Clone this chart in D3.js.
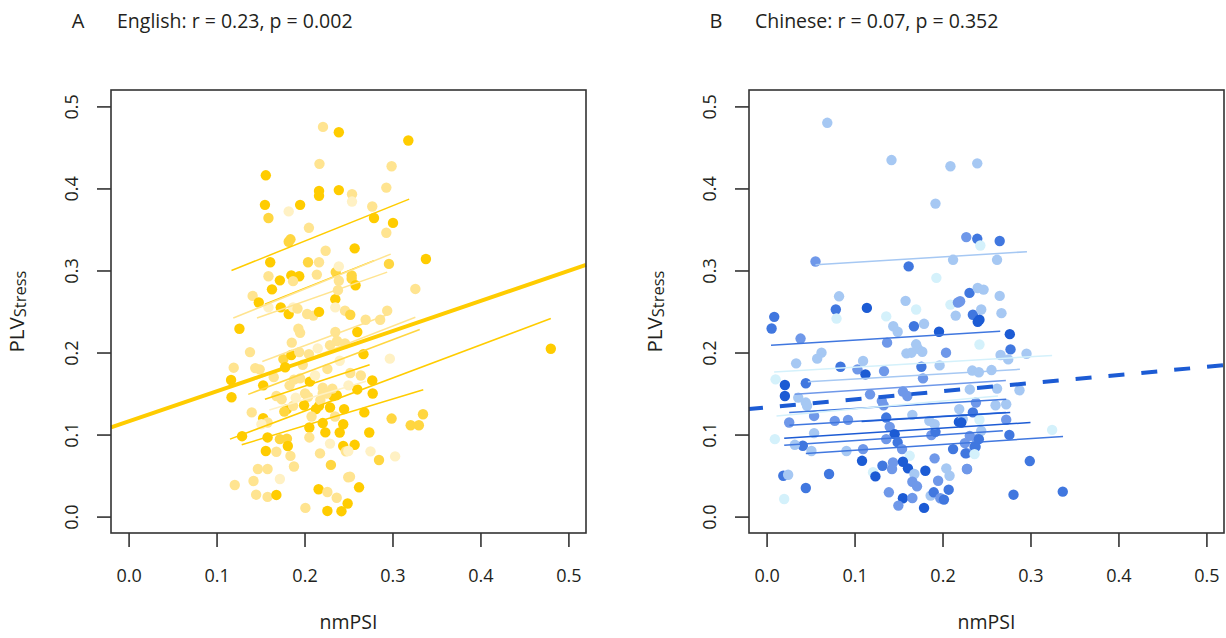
<!DOCTYPE html>
<html>
<head>
<meta charset="utf-8">
<script src="https://cdn.jsdelivr.net/npm/d3@7"></script>
<style>
  body { margin: 0; background: #fff; }
  text { font-family: "Open Sans", sans-serif; fill: #231f20; }
</style>
</head>
<body>
<div id="chart"></div>
<script>
// ---- data: [nmPSI, PLV, shade] ----
const englishPoints = [
  [0.221,0.475,2],[0.239,0.4685,0],[0.156,0.416,0],[0.217,0.430,2],[0.2165,0.397,0],[0.2165,0.391,0],
  [0.239,0.398,0],[0.155,0.380,0],[0.195,0.380,0],[0.182,0.372,3],[0.159,0.364,1],[0.205,0.352,2],
  [0.182,0.335,1],[0.184,0.338,1],[0.224,0.324,2],[0.161,0.310,0],[0.204,0.310,1],[0.2165,0.310,2],
  [0.159,0.293,2],[0.185,0.294,0],[0.194,0.293,0],[0.214,0.295,2],[0.2355,0.298,1],[0.172,0.288,0],
  [0.187,0.287,2],[0.163,0.277,0],[0.141,0.269,2],[0.148,0.261,0],[0.159,0.255,3],[0.173,0.255,0],
  [0.182,0.247,0],[0.187,0.255,3],[0.192,0.2535,2],[0.203,0.247,2],[0.210,0.245,2],[0.2165,0.2495,0],
  [0.235,0.265,0],[0.238,0.276,2],[0.239,0.2875,2],[0.239,0.305,3],[0.246,0.251,2],[0.235,0.255,3],
  [0.318,0.4585,0],[0.299,0.427,2],[0.254,0.393,2],[0.254,0.384,3],[0.293,0.401,2],[0.277,0.378,2],
  [0.279,0.364,0],[0.3006,0.358,0],[0.293,0.346,2],[0.257,0.327,0],[0.338,0.314,0],[0.296,0.308,1],
  [0.2536,0.294,1],[0.2536,0.290,1],[0.258,0.282,0],[0.326,0.2775,2],[0.252,0.246,1],[0.294,0.251,2],
  [0.2695,0.240,2],[0.286,0.240,2],[0.126,0.229,0],[0.1855,0.212,2],[0.195,0.224,2],[0.193,0.229,2],
  [0.235,0.225,2],[0.237,0.214,2],[0.229,0.209,2],[0.246,0.211,2],[0.138,0.2005,2],[0.176,0.192,1],
  [0.185,0.197,0],[0.194,0.2005,2],[0.205,0.198,2],[0.178,0.182,0],[0.1195,0.1815,2],[0.144,0.181,2],
  [0.149,0.1795,2],[0.1165,0.1665,0],[0.117,0.1455,0],[0.153,0.160,0],[0.168,0.147,2],[0.174,0.143,2],
  [0.188,0.167,2],[0.195,0.1685,2],[0.206,0.1645,0],[0.2006,0.150,2],[0.204,0.146,2],[0.1995,0.1357,0],
  [0.180,0.131,0],[0.187,0.135,2],[0.177,0.128,1],[0.140,0.127,2],[0.153,0.120,0],[0.158,0.1147,2],
  [0.151,0.1126,3],[0.129,0.098,0],[0.158,0.0965,0],[0.172,0.0944,1],[0.180,0.095,1],[0.181,0.086,0],
  [0.2055,0.1086,0],[0.2055,0.0965,2],[0.2165,0.135,0],[0.2207,0.114,0],[0.2237,0.1026,0],[0.229,0.089,3],
  [0.213,0.131,0],[0.229,0.133,0],[0.2327,0.147,0],[0.2366,0.148,0],[0.245,0.131,0],[0.240,0.1025,0],
  [0.244,0.086,0],[0.2347,0.122,2],[0.2207,0.157,2],[0.2316,0.156,2],[0.156,0.080,0],[0.168,0.079,2],
  [0.184,0.074,2],[0.188,0.061,2],[0.2176,0.077,2],[0.230,0.063,1],[0.147,0.058,2],[0.158,0.058,2],
  [0.172,0.0458,3],[0.142,0.0434,2],[0.1207,0.0385,2],[0.145,0.0267,2],[0.158,0.024,2],[0.168,0.0264,0],
  [0.201,0.0106,2],[0.216,0.0333,0],[0.226,0.030,2],[0.2366,0.023,2],[0.226,0.0069,0],[0.242,0.0066,0],
  [0.249,0.016,0],[0.2497,0.048,2],[0.247,0.0795,2],[0.260,0.225,0],[0.267,0.198,0],[0.297,0.1925,3],
  [0.264,0.172,2],[0.277,0.166,0],[0.260,0.155,0],[0.2775,0.150,0],[0.2207,0.150,2],[0.225,0.150,2],
  [0.268,0.127,0],[0.244,0.1126,0],[0.2736,0.1025,0],[0.299,0.1195,1],[0.3207,0.1114,1],[0.330,0.1114,1],
  [0.3347,0.1248,1],[0.257,0.0875,0],[0.2498,0.080,3],[0.275,0.0795,3],[0.2847,0.069,1],[0.303,0.0734,3],
  [0.2517,0.0486,2],[0.262,0.0357,0],[0.480,0.2046,0],
  [0.183,0.160,2],[0.212,0.172,3],[0.226,0.180,2],[0.240,0.190,3],[0.198,0.185,2],[0.215,0.205,3],
  [0.252,0.175,2],[0.190,0.145,3],[0.218,0.142,2],[0.165,0.170,2],[0.208,0.122,2],[0.250,0.160,3]
];

// per-subject fits: [x1, y1, x2, y2, shade]
const englishFits = [
  [0.117,0.300,0.319,0.387,0],[0.155,0.259,0.279,0.312,0],[0.119,0.242,0.298,0.320,2],
  [0.146,0.242,0.294,0.298,2],[0.1153,0.0944,0.480,0.2415,0],[0.1286,0.0875,0.335,0.1546,0],
  [0.136,0.149,0.331,0.228,1],[0.144,0.167,0.326,0.243,2],[0.152,0.189,0.294,0.246,2],
  [0.155,0.143,0.274,0.185,0],[0.160,0.130,0.270,0.165,3]
];
const englishOverall = [0.116, 0.367]; // intercept, slope

const chinesePoints = [
  [0.069,0.480,3],[0.142,0.4346,3],[0.209,0.427,3],[0.2395,0.4306,3],[0.192,0.3815,3],[0.227,0.3407,2],
  [0.2395,0.3386,1],[0.0556,0.311,2],[0.1615,0.305,1],[0.212,0.313,3],[0.193,0.291,4],[0.0824,0.2685,3],
  [0.0787,0.2524,1],[0.114,0.2544,0],[0.158,0.263,3],[0.170,0.2524,4],[0.209,0.2584,4],[0.2175,0.261,2],
  [0.220,0.2625,2],[0.2307,0.2727,1],[0.215,0.245,3],[0.2345,0.246,1],[0.0087,0.2435,1],[0.240,0.2787,3],
  [0.265,0.336,1],[0.243,0.3305,4],[0.262,0.313,3],[0.2467,0.2767,3],[0.265,0.269,3],[0.244,0.2524,3],
  [0.267,0.248,3],[0.242,0.240,0],[0.0057,0.2293,1],[0.0795,0.2414,4],[0.136,0.244,4],[0.144,0.232,3],
  [0.149,0.2253,3],[0.1675,0.232,1],[0.179,0.235,3],[0.196,0.2253,0],[0.240,0.2374,0],[0.0386,0.217,2],
  [0.137,0.212,2],[0.170,0.210,3],[0.172,0.2046,3],[0.159,0.199,3],[0.1646,0.1998,3],[0.177,0.201,3],
  [0.204,0.1998,2],[0.0624,0.1998,3],[0.0575,0.1925,3],[0.0336,0.1868,3],[0.084,0.1827,1],[0.1033,0.1795,2],
  [0.1097,0.1896,3],[0.1124,0.1734,0],[0.1335,0.1774,2],[0.176,0.1827,1],[0.1778,0.1685,2],[0.1967,0.1843,3],
  [0.0102,0.1673,4],[0.0208,0.1604,0],[0.0208,0.147,0],[0.0446,0.1625,1],[0.036,0.145,3],[0.0446,0.139,3],
  [0.046,0.135,3],[0.054,0.1227,2],[0.0257,0.1147,2],[0.054,0.1017,3],[0.0094,0.0944,4],[0.0412,0.0863,1],
  [0.0321,0.0875,3],[0.051,0.080,3],[0.0775,0.1167,2],[0.0926,0.1179,2],[0.0908,0.080,3],[0.1097,0.0823,2],
  [0.1085,0.068,0],[0.019,0.0498,1],[0.0245,0.051,3],[0.071,0.0519,1],[0.0446,0.0349,1],[0.020,0.0215,4],
  [0.1176,0.149,2],[0.131,0.141,2],[0.133,0.1357,2],[0.155,0.1524,2],[0.160,0.147,2],[0.1657,0.124,3],
  [0.136,0.1207,1],[0.140,0.1094,2],[0.1456,0.1005,0],[0.136,0.0944,2],[0.149,0.0904,1],[0.154,0.0823,2],
  [0.1627,0.0741,4],[0.1437,0.066,2],[0.155,0.0668,0],[0.1317,0.062,1],[0.121,0.054,4],[0.1237,0.049,0],
  [0.1426,0.058,2],[0.1607,0.0588,0],[0.168,0.0519,3],[0.1657,0.0425,2],[0.171,0.0369,2],[0.139,0.0296,2],
  [0.155,0.0223,0],[0.1657,0.0227,2],[0.1498,0.0134,2],[0.179,0.0106,0],[0.1805,0.0559,0],[0.1865,0.0255,3],
  [0.190,0.0296,1],[0.195,0.0437,2],[0.1975,0.0223,2],[0.2016,0.0207,1],[0.207,0.0328,1],[0.2043,0.0588,3],
  [0.208,0.0498,3],[0.191,0.071,2],[0.1873,0.0993,2],[0.192,0.1033,1],[0.212,0.0823,1],[0.2186,0.1154,0],
  [0.228,0.058,2],[0.2277,0.0774,2],[0.2254,0.0896,2],[0.2376,0.085,1],[0.231,0.0984,2],[0.239,0.0944,2],
  [0.219,0.131,3],[0.223,0.119,3],[0.2345,0.127,1],[0.238,0.139,2],[0.231,0.155,3],[0.185,0.1167,3],
  [0.191,0.1126,3],[0.2765,0.2224,0],[0.2773,0.2038,1],[0.242,0.2098,4],[0.266,0.197,3],[0.2747,0.1916,3],
  [0.2955,0.1985,3],[0.2338,0.178,3],[0.2413,0.176,3],[0.2557,0.1786,3],[0.262,0.156,3],[0.2875,0.154,3],
  [0.2603,0.1357,3],[0.2724,0.137,3],[0.2724,0.118,2],[0.242,0.118,4],[0.2213,0.1147,0],[0.244,0.1045,3],
  [0.276,0.0996,1],[0.2413,0.0944,1],[0.2364,0.085,1],[0.2262,0.077,1],[0.2364,0.0762,4],[0.2277,0.058,2],
  [0.3246,0.1057,4],[0.2992,0.0677,1],[0.2807,0.0267,1],[0.3367,0.0304,1]
];

const chineseFits = [
  [0.0556,0.3069,0.296,0.3229,3],[0.005,0.209,0.2656,0.226,1],[0.0086,0.1762,0.3246,0.1965,4],
  [0.047,0.1645,0.288,0.1795,3],[0.032,0.149,0.272,0.166,2],[0.0257,0.127,0.2724,0.143,1],
  [0.0113,0.1227,0.263,0.147,4],[0.026,0.1114,0.272,0.127,1],[0.108,0.116,0.277,0.127,0],
  [0.02,0.0956,0.30,0.1147,0],[0.02,0.087,0.2686,0.1045,1],[0.0446,0.077,0.337,0.0977,1]
];
const chineseOverall = [0.133, 0.099];

const tickValues = [0, 0.1, 0.2, 0.3, 0.4, 0.5];
const yellowShades = ["#ffcc00", "#ffd640", "#ffe490", "#fff1c4"];
const blueShades = ["#1c5bd4", "#4077df", "#6f98e9", "#a6c8f3", "#d4f1fb"];

// ---- layout ----
const w = 1226, h = 638;
const plotTop = 90, plotBottom = 533;
const svg = d3.select("#chart").append("svg").attr("width", w).attr("height", h);

const yScale = d3.scaleLinear().domain([-0.02, 0.52]).range([plotBottom, plotTop]);

function drawPanel(left, right, letter, title, pts, fits, overall, shades, dashed) {
    const xScale = d3.scaleLinear().domain([-0.02, 0.52]).range([left, right]);
    const g = svg.append("g");

    // points
    g.append("g").selectAll("circle").data(pts).join("circle")
        .attr("cx", d => xScale(d[0]))
        .attr("cy", d => yScale(d[1]))
        .attr("r", 5.2)
        .attr("fill", d => shades[d[2]]);

    // per-subject regression lines
    g.append("g").selectAll("line").data(fits).join("line")
        .attr("x1", d => xScale(d[0])).attr("y1", d => yScale(d[1]))
        .attr("x2", d => xScale(d[2])).attr("y2", d => yScale(d[3]))
        .attr("stroke", d => shades[d[4]])
        .attr("stroke-width", 1.5);

    // overall fit, clipped to the plot region
    const [x0, x1] = xScale.domain();
    g.append("line")
        .attr("x1", xScale(x0)).attr("y1", yScale(overall[0] + overall[1] * x0))
        .attr("x2", xScale(x1)).attr("y2", yScale(overall[0] + overall[1] * x1))
        .attr("stroke", shades[0])
        .attr("stroke-width", 4)
        .attr("stroke-dasharray", dashed ? "16,17" : null)
        .attr("stroke-dashoffset", dashed ? 2 : null);

    // box
    g.append("rect")
        .attr("x", left).attr("y", plotTop)
        .attr("width", right - left).attr("height", plotBottom - plotTop)
        .attr("fill", "none").attr("stroke", "#333").attr("stroke-width", 1.6);

    // axes
    const xAxis = d3.axisBottom(xScale).tickValues(tickValues).tickFormat(d3.format(".1f"))
        .tickSize(14).tickPadding(22);
    const gx = g.append("g").attr("transform", "translate(0," + plotBottom + ")").call(xAxis);
    gx.select(".domain").remove();
    gx.selectAll("line").attr("stroke", "#333").attr("stroke-width", 1.6);
    gx.selectAll("text").attr("font-size", 18).attr("font-family", "Open Sans").attr("fill", "#231f20");

    const yAxis = d3.axisLeft(yScale).tickValues(tickValues).tickFormat(d3.format(".1f")).tickSize(14);
    const gy = g.append("g").attr("transform", "translate(" + left + ",0)").call(yAxis);
    gy.select(".domain").remove();
    gy.selectAll("line").attr("stroke", "#333").attr("stroke-width", 1.6);
    // rotate the y tick labels like base R (las = 0)
    gy.selectAll("text")
        .attr("font-size", 18).attr("font-family", "Open Sans").attr("fill", "#231f20")
        .attr("x", 0).attr("y", 0).attr("dy", "0.35em")
        .attr("text-anchor", "middle")
        .attr("transform", "translate(-39,0) rotate(-90)");

    // axis titles
    g.append("text")
        .attr("x", (left + right) / 2).attr("y", 629)
        .attr("text-anchor", "middle").attr("font-size", 19.5)
        .text("nmPSI");

    const ylab = g.append("text")
        .attr("transform", "translate(" + (left - 87) + "," + ((plotTop + plotBottom) / 2) + ") rotate(-90)")
        .attr("text-anchor", "middle").attr("font-size", 20.5);
    ylab.append("tspan").text("PLV");
    ylab.append("tspan").attr("font-size", 16.5).attr("dy", 2).text("Stress");

    // panel title
    g.append("text").attr("x", left - 33).attr("y", 28)
        .attr("text-anchor", "middle").attr("font-size", 20).text(letter);
    g.append("text").attr("x", left + 6).attr("y", 28)
        .attr("font-size", 19.5).text(title);
}

drawPanel(111, 586, "A", "English: r = 0.23, p = 0.002", englishPoints, englishFits, englishOverall, yellowShades, false);
drawPanel(749, 1224, "B", "Chinese: r = 0.07, p = 0.352", chinesePoints, chineseFits, chineseOverall, blueShades, true);
</script>
</body>
</html>
